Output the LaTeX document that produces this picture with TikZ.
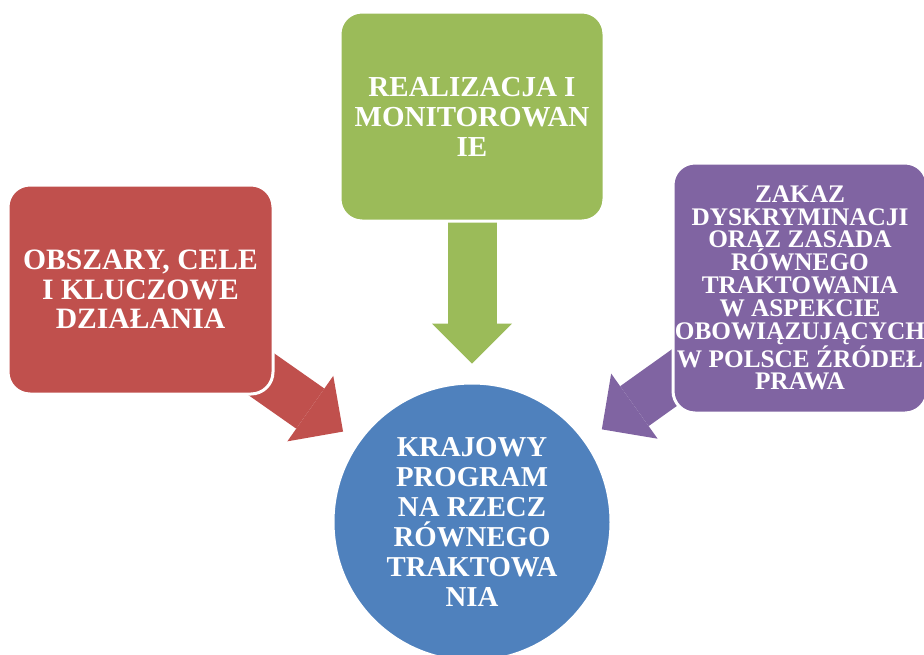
\documentclass[tikz,border=0pt]{standalone}
\usepackage{fontspec}
\setmainfont{Liberation Serif}
\usepackage{tikz}
\usetikzlibrary{arrows.meta,backgrounds}

\definecolor{czer}{HTML}{C0504D}
\definecolor{ziel}{HTML}{9BBB59}
\definecolor{fiol}{HTML}{8064A2}
\definecolor{nieb}{HTML}{4F81BD}

\begin{document}
\begin{tikzpicture}[x=1pt, y=-1pt,
    bx/.style={rectangle, rounded corners=22pt, draw=white, line width=3pt,
               text=white, align=center, inner sep=0pt,
               minimum width=265pt, minimum height=209pt},
    ar/.style={line width=49pt,
               -{Triangle[length=40pt, width=80pt, line width=0pt]}}]
  \useasboundingbox (0,0) rectangle (924,654);
  \node[bx, fill=czer, font=\fontsize{29.6}{29.5}\selectfont\bfseries]
    (obs) at (140.5,289.5) {OBSZARY, CELE\\I KLUCZOWE\\DZIAŁANIA};
  \node[bx, fill=ziel, minimum width=264pt,
        font=\fontsize{29}{30}\selectfont\bfseries]
    (real) at (472,116.5) {REALIZACJA I\\MONITOROWAN\\IE};
  \node[bx, fill=fiol, minimum width=254pt, minimum height=250pt,
        font=\fontsize{25.3}{22.8}\selectfont\bfseries]
    (zak) at (800,288) {ZAKAZ\\DYSKRYMINACJI\\ORAZ ZASADA\\RÓWNEGO\\TRAKTOWANIA\\
      W ASPEKCIE\\OBOWIĄZUJĄCYCH\\W POLSCE ŹRÓDEŁ\\PRAWA};
  \node[circle, fill=nieb, draw=white, line width=3pt, minimum size=278pt,
        inner sep=0pt, text=white, align=center,
        font=\fontsize{28.8}{30}\selectfont\bfseries]
    (kp) at (472,522) {KRAJOWY\\PROGRAM\\NA RZECZ\\RÓWNEGO\\TRAKTOWA\\NIA};
  % block arrows under the boxes
  \begin{scope}[on background layer]
    \foreach \n/\c/\a/\b in {obs/czer/120/17, real/ziel/84/18, zak/fiol/120/19}
      \draw[ar, \c, shorten <=\a pt, shorten >=\b pt] (\n.center) -- (kp);
  \end{scope}
\end{tikzpicture}
\end{document}
